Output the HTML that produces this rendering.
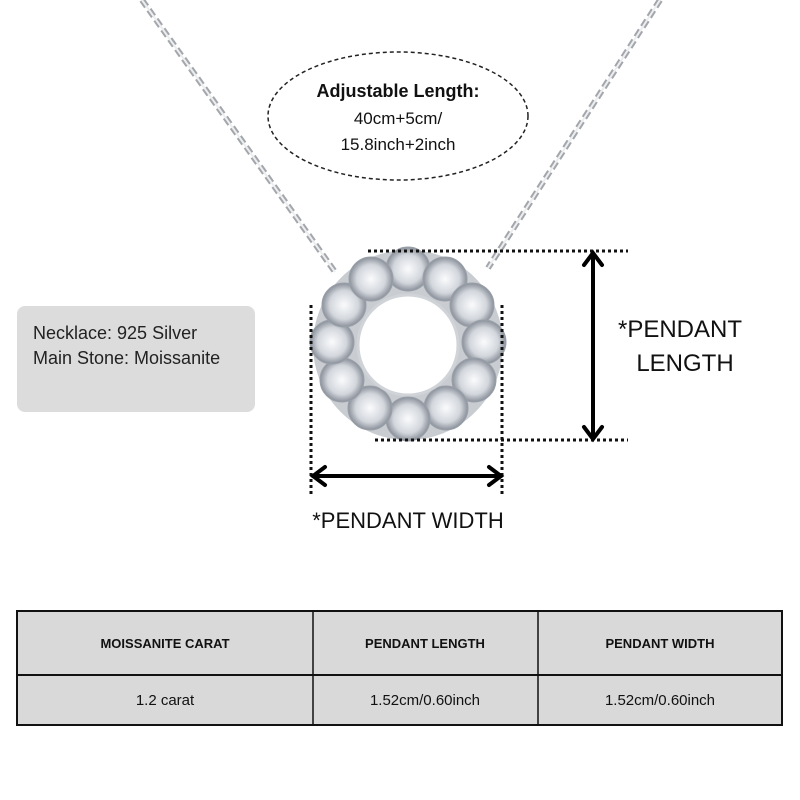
<!DOCTYPE html>
<html><head><style>
body{margin:0;background:#fff;width:800px;height:800px;overflow:hidden;font-family:"Liberation Sans",sans-serif}
</style></head><body>
<svg width="800" height="800" xmlns="http://www.w3.org/2000/svg" style="position:absolute;left:0;top:0">
<defs>
<radialGradient id="st" cx="50%" cy="50%" r="50%"><stop offset="0" stop-color="#fafbfc"/><stop offset="0.65" stop-color="#d3d7dd"/><stop offset="1" stop-color="#8a909a"/></radialGradient>
</defs>
<path d="M142 0 L335 272" stroke="#a3a6ab" stroke-width="6" stroke-dasharray="8 4" fill="none"/>
<path d="M142 0 L335 272" stroke="#eceef0" stroke-width="2" fill="none"/>
<path d="M660 0 L488 268" stroke="#a3a6ab" stroke-width="6" stroke-dasharray="8 4" fill="none"/>
<path d="M660 0 L488 268" stroke="#eceef0" stroke-width="2" fill="none"/>
<ellipse cx="398" cy="116" rx="130" ry="64" fill="#fff" stroke="#222" stroke-width="1.5" stroke-dasharray="4 3"/>
<text x="398" y="97" text-anchor="middle" font-size="18" font-weight="bold" fill="#111">Adjustable Length:</text>
<text x="398" y="124" text-anchor="middle" font-size="17" fill="#111">40cm+5cm/</text>
<text x="398" y="150" text-anchor="middle" font-size="17" fill="#111">15.8inch+2inch</text>
<rect x="17" y="306" width="238" height="106" rx="8" fill="#dcdcdc"/>
<text x="33" y="339" font-size="18" fill="#222">Necklace: 925 Silver</text>
<text x="33" y="364" font-size="18" fill="#222">Main Stone: Moissanite</text>
<circle cx="408" cy="345" r="72" fill="none" stroke="#c9cdd2" stroke-width="46"/>
<g fill="url(#st)" stroke="#9aa0a8" stroke-width="1">
<circle cx="408" cy="269" r="22"/><circle cx="445" cy="279" r="22"/><circle cx="472" cy="305" r="22"/>
<circle cx="484" cy="342" r="22"/><circle cx="474" cy="380" r="22"/><circle cx="446" cy="408" r="22"/>
<circle cx="408" cy="419" r="22"/><circle cx="370" cy="408" r="22"/><circle cx="342" cy="380" r="22"/>
<circle cx="332" cy="342" r="22"/><circle cx="344" cy="305" r="22"/><circle cx="371" cy="279" r="22"/>
</g>
<circle cx="408" cy="345" r="50" fill="#fff"/>
<circle cx="408" cy="345" r="50" fill="none" stroke="#d0d4d8" stroke-width="3"/>
<g stroke="#111" stroke-width="3" stroke-dasharray="3 3" fill="none">
<line x1="368" y1="251" x2="628" y2="251"/>
<line x1="375" y1="440" x2="628" y2="440"/>
<line x1="311" y1="305" x2="311" y2="495"/>
<line x1="502" y1="305" x2="502" y2="495"/>
</g>
<g stroke="#000" stroke-width="4" fill="none" stroke-linecap="round">
<line x1="593" y1="254" x2="593" y2="438"/>
<polyline points="584,265 593,253 602,265"/>
<polyline points="584,427 593,439 602,427"/>
<line x1="313" y1="476" x2="501" y2="476"/>
<polyline points="325,467 313,476 325,485"/>
<polyline points="489,467 501,476 489,485"/>
</g>
<text x="680" y="337" text-anchor="middle" font-size="24" fill="#111">*PENDANT</text>
<text x="685" y="371" text-anchor="middle" font-size="24" fill="#111">LENGTH</text>
<text x="408" y="528" text-anchor="middle" font-size="22" fill="#111">*PENDANT WIDTH</text>
<rect x="17" y="611" width="765" height="114" fill="#d9d9d9" stroke="#111" stroke-width="2"/>
<line x1="17" y1="675" x2="782" y2="675" stroke="#111" stroke-width="2"/>
<line x1="313" y1="611" x2="313" y2="725" stroke="#111" stroke-width="1.5"/>
<line x1="538" y1="611" x2="538" y2="725" stroke="#111" stroke-width="1.5"/>
<g font-size="13" font-weight="bold" fill="#111" text-anchor="middle">
<text x="165" y="648">MOISSANITE CARAT</text>
<text x="425" y="648">PENDANT LENGTH</text>
<text x="660" y="648">PENDANT WIDTH</text>
</g>
<g font-size="15" fill="#111" text-anchor="middle">
<text x="165" y="705">1.2 carat</text>
<text x="425" y="705">1.52cm/0.60inch</text>
<text x="660" y="705">1.52cm/0.60inch</text>
</g>
</svg>
</body></html>
